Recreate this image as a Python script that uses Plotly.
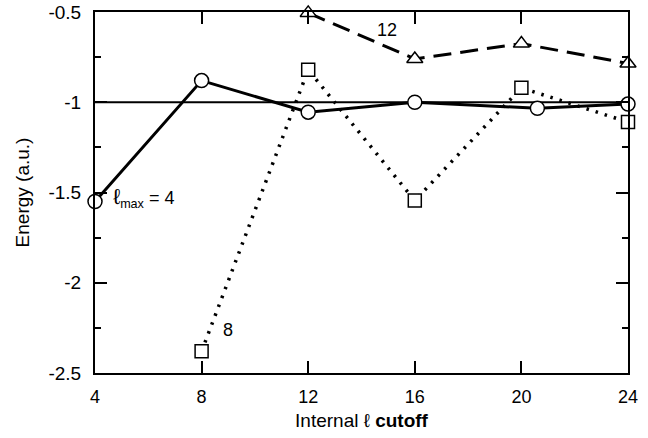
import plotly.graph_objects as go

# lmax = 4 (circles, solid)
x4 = [4, 8, 12, 16, 20.6, 24]
y4 = [-1.55, -0.88, -1.055, -1.0, -1.033, -1.01]
# lmax = 8 (squares, dotted)
x8 = [8, 12, 16, 20, 24]
y8 = [-2.38, -0.82, -1.545, -0.92, -1.11]
# lmax = 12 (triangles, dashed)
x12 = [12, 16, 20, 24]
y12 = [-0.505, -0.76, -0.675, -0.785]
ref_energy = -1.0

xticks = [4, 8, 12, 16, 20, 24]
yticks = [-2.5, -2, -1.5, -1, -0.5]
yticklabels = ["-2.5", "-2", "-1.5", "-1", "-0.5"]

FONT = "Liberation Sans, Arial, sans-serif"

fig = go.Figure()
fig.add_shape(type="line", xref="paper", yref="y", x0=0, x1=1, y0=ref_energy, y1=ref_energy,
              line=dict(color="black", width=2), layer="below")
fig.add_trace(go.Scatter(x=x8, y=y8, mode="lines+markers",
                         line=dict(color="black", width=3.5, dash="2.5px,7px"),
                         marker=dict(symbol="square", size=13, color="white", line=dict(color="black", width=1.5)),
                         cliponaxis=False))
fig.add_trace(go.Scatter(x=x12, y=y12, mode="lines+markers",
                         line=dict(color="black", width=3, dash="18px,9px"),
                         marker=dict(symbol="triangle-up", size=14, color="white", line=dict(color="black", width=1.5)),
                         cliponaxis=False))
fig.add_trace(go.Scatter(x=x4, y=y4, mode="lines+markers",
                         line=dict(color="black", width=3),
                         marker=dict(symbol="circle", size=14, color="white", line=dict(color="black", width=1.5)),
                         cliponaxis=False))

fig.add_annotation(x=4.6, y=-1.53, text="<span style='font-size:22px'>ℓ</span><sub>max</sub> = 4",
                   showarrow=False, xanchor="left",
                   font=dict(size=18, family=FONT, color="black"))
fig.add_annotation(x=14.95, y=-0.6, text="12", showarrow=False,
                   font=dict(size=18, family=FONT, color="black"))
fig.add_annotation(x=9.0, y=-2.26, text="8", showarrow=False,
                   font=dict(size=18, family=FONT, color="black"))

fig.update_layout(
    template="none",
    width=648, height=438,
    margin=dict(l=95, r=20, t=12, b=65),
    paper_bgcolor="white", plot_bgcolor="white",
    showlegend=False,
    font=dict(family=FONT, color="black"),
)
fig.update_xaxes(range=[4, 24], tickvals=xticks, ticks="inside", ticklen=12, tickwidth=1.5, tickcolor="black",
                 showline=True, linecolor="black", linewidth=2, mirror="ticks", showgrid=False,
                 zeroline=False, tickfont=dict(size=18, color="black"), ticklabelstandoff=6, automargin=False,
                 title=dict(text="Internal ℓ <b>cutoff</b>", font=dict(size=19, color="black"), standoff=8))
fig.update_yaxes(range=[-2.5, -0.5], tickvals=yticks, ticktext=yticklabels, ticks="inside", ticklen=12,
                 tickwidth=1.5, tickcolor="black", showline=True, linecolor="black", linewidth=2, mirror="ticks",
                 showgrid=False, zeroline=False, tickfont=dict(size=19, color="black"), ticklabelstandoff=8,
                 automargin=False,
                 minor=dict(dtick=0.25, tick0=-2.5, ticks="inside", ticklen=6, tickwidth=1.5,
                            tickcolor="black", showgrid=False),
                 title=dict(text="Energy (a.u.)", font=dict(size=19, color="black"), standoff=14))

fig.write_html("out.html", config={"displayModeBar": False},
               post_script="document.body.style.margin='0';document.body.style.overflow='hidden';")
